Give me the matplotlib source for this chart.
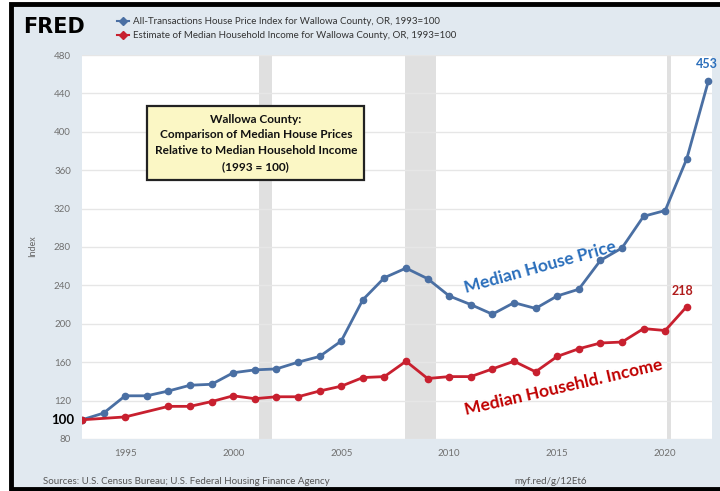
import matplotlib
matplotlib.use('Agg')
import matplotlib.pyplot as plt
from matplotlib.patches import Rectangle
from matplotlib.lines import Line2D

# data (1993 = 100)
years = list(range(1993, 2023))
house_price = [100, 107, 125, 125, 130, 136, 137, 149, 152, 153,
               160, 166, 182, 225, 248, 258, 247, 229, 220, 210,
               222, 216, 229, 236, 266, 279, 312, 318, 372, 453]

income_years = [1993, 1995] + list(range(1997, 2022))
income = [100, 103, 114, 114, 119, 125, 122, 124, 124, 130,
          135, 144, 145, 161, 143, 145, 145, 153, 161, 150,
          166, 174, 180, 181, 195, 193, 218]

recessions = [(2001.19, 2001.81), (2007.94, 2009.4), (2020.1, 2020.25)]
yticks = list(range(80, 481, 40))
xticks = [1995, 2000, 2005, 2010, 2015, 2020]

blue = '#4a6fa3'
red = '#c8202f'
W, H = 720, 491

plt.rcParams['font.family'] = ['Lato', 'DejaVu Sans']

fig = plt.figure(figsize=(7.2, 4.91), dpi=100, facecolor='white')

# screenshot frame + FRED background
fig.patches.append(Rectangle((11 / W, 1 - 489 / H), 1.2, 485 / H,
                             transform=fig.transFigure, facecolor='#e1e9f0',
                             edgecolor='black', lw=3.5, zorder=-5))

ax = fig.add_axes([82 / W, 1 - 439 / H, 630 / W, 384 / H])
ax.set_zorder(2)
ax.set_facecolor('white')

for a, b in recessions:
    ax.axvspan(a, b, color='#e0e0e0', lw=0, zorder=1)

ax.plot(years, house_price, color=blue, lw=2, marker='o', ms=4.5, zorder=3)
ax.plot(income_years, income, color=red, lw=2, marker='o', ms=4.5, zorder=3)

ax.set_xlim(1993, 1993 + 630 / 21.6)
ax.set_ylim(80, 480)
ax.set_yticks(yticks)
ax.set_xticks(xticks)
ax.tick_params(length=0, labelsize=7, labelcolor='#707070')
ax.tick_params(axis='y', pad=8)
ax.tick_params(axis='x', pad=7)
ax.grid(axis='y', color='#e6e6e6', lw=1, zorder=0)
for s in ax.spines.values():
    s.set_visible(False)

ax.text(-0.0127, 100, '100', transform=ax.get_yaxis_transform(), ha='right',
        va='center', fontsize=9.5, fontweight='bold', color='black')

ax.text(0.276, 0.771,
        'Wallowa County:\nComparison of Median House Prices\n'
        'Relative to Median Household Income\n(1993 = 100)',
        transform=ax.transAxes, ha='center', va='center', fontsize=8.6,
        fontweight='bold', color='#111111', linespacing=1.55, zorder=5,
        bbox=dict(boxstyle='square,pad=0.6', facecolor='#fbf7c5',
                  edgecolor='#222222', lw=1.6))

ax.text(2014.2, 259, 'Median House Price', rotation=15.5, ha='center',
        va='center', fontsize=12.5, color='#2a6ebb', fontweight='bold',
        zorder=5)
ax.text(2015.3, 134, 'Median Househld. Income', rotation=13, ha='center',
        va='center', fontsize=12.5, color='#c00000', fontweight='bold',
        zorder=5)

ax.annotate('453', (years[-1], house_price[-1]), xytext=(-1, 8),
            textcoords='offset points', ha='center', va='bottom',
            fontsize=9, fontweight='bold', color='#2a6ebb', annotation_clip=False)
ax.annotate('218', (income_years[-1], income[-1]), xytext=(-3, 7),
            textcoords='offset points', ha='center', va='bottom',
            fontsize=9, fontweight='bold', color='#b01c1c')

fig.text(33 / W, 1 - 246 / H, 'Index', rotation=90, ha='center', va='center',
         fontsize=6.5, color='#666666')

# FRED header and legend
fig.text(23 / W, 1 - 27 / H, 'FRED', ha='left', va='center', fontsize=15,
         fontweight='heavy', family='DejaVu Sans', color='black')
legend = [(blue, 'All-Transactions House Price Index for Wallowa County, OR, 1993=100', 21),
          (red, 'Estimate of Median Household Income for Wallowa County, OR, 1993=100', 35)]
for col, label, ypx in legend:
    fig.add_artist(Line2D([117 / W, 129 / W], [1 - ypx / H] * 2, color=col, lw=1.5,
                          transform=fig.transFigure))
    fig.add_artist(Line2D([123 / W], [1 - ypx / H], color=col, marker='D', ms=4,
                          transform=fig.transFigure))
    fig.text(133 / W, 1 - ypx / H, label, ha='left', va='center', fontsize=7,
             color='#333333')

fig.text(43 / W, 1 - 481 / H,
         'Sources: U.S. Census Bureau; U.S. Federal Housing Finance Agency',
         ha='left', va='center', fontsize=7, color='#555555')
fig.text(514 / W, 1 - 481 / H, 'myf.red/g/12Et6', ha='left', va='center',
         fontsize=7, color='#555555')

fig.savefig('out.png', dpi=100)
